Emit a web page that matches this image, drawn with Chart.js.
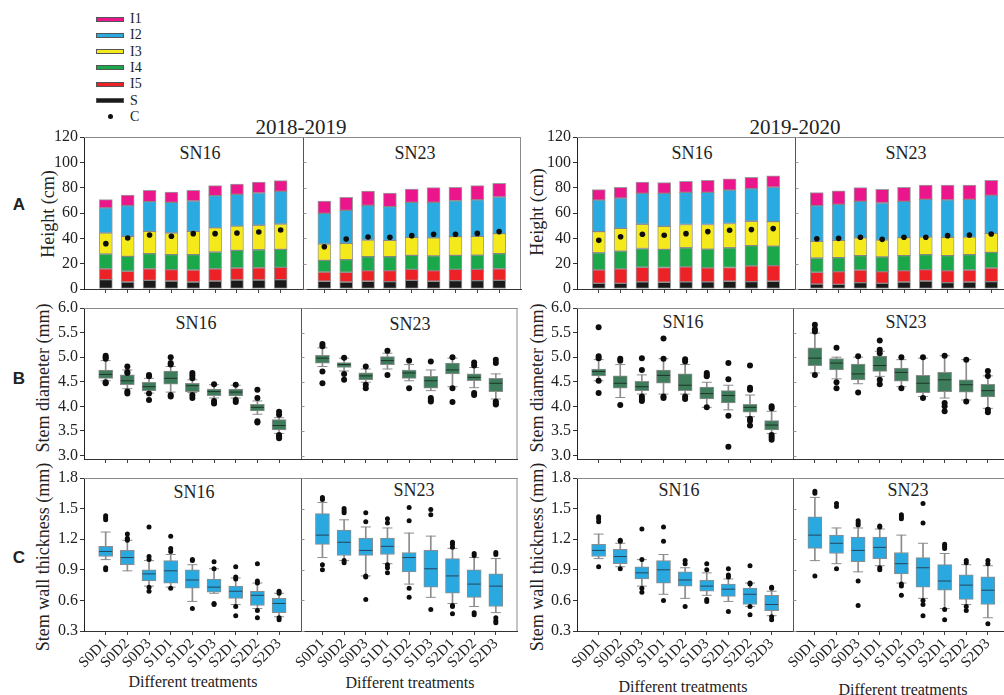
<!DOCTYPE html>
<html>
<head>
<meta charset="utf-8">
<script src="https://cdn.jsdelivr.net/npm/chart.js@4.4.1/dist/chart.umd.min.js"></script>
<style>
  html, body { margin: 0; padding: 0; width: 1004px; height: 695px; overflow: hidden; background: #fff; }
  body { position: relative; font-family: "Liberation Serif", "Times New Roman", serif; color: #222; }
  canvas { position: absolute; }
  .t  { position: absolute; white-space: nowrap; transform: translate(-50%, -50%); line-height: 1; }
  .ty { position: absolute; white-space: nowrap; transform: translate(-50%, -50%) rotate(-90deg); line-height: 1; font-size: 18px; }
  .p  { font-family: "Liberation Sans", Arial, sans-serif; font-weight: bold; font-size: 17px; }
  .sn { font-size: 18px; }
  .yr { font-size: 21px; }
  .dt { font-size: 16px; }
  .lg { position: absolute; font-size: 14px; line-height: 1; }
</style>
</head>
<body>
<div class="t yr" style="left:301px;top:127px">2018-2019</div>
<div class="t yr" style="left:795px;top:127px">2019-2020</div>

<div class="t p" style="left:19px;top:204px">A</div>
<div class="t p" style="left:19px;top:378px">B</div>
<div class="t p" style="left:19px;top:557px">C</div>

<div class="ty" style="left:48px;top:214px">Height (cm)</div>
<div class="ty" style="left:537px;top:212px">Height (cm)</div>
<div class="ty" style="left:43px;top:378px">Stem diameter (mm)</div>
<div class="ty" style="left:537px;top:378px">Stem diameter (mm)</div>
<div class="ty" style="left:43px;top:557px">Stem wall thickness (mm)</div>
<div class="ty" style="left:537px;top:557px">Stem wall thickness (mm)</div>

<div class="t sn" style="left:200px;top:153px">SN16</div>
<div class="t sn" style="left:415px;top:153px">SN23</div>
<div class="t sn" style="left:692px;top:153px">SN16</div>
<div class="t sn" style="left:906px;top:153px">SN23</div>
<div class="t sn" style="left:196px;top:323px">SN16</div>
<div class="t sn" style="left:410px;top:324px">SN23</div>
<div class="t sn" style="left:683px;top:322px">SN16</div>
<div class="t sn" style="left:906px;top:322px">SN23</div>
<div class="t sn" style="left:194px;top:492px">SN16</div>
<div class="t sn" style="left:414px;top:490px">SN23</div>
<div class="t sn" style="left:679px;top:490px">SN16</div>
<div class="t sn" style="left:908px;top:490px">SN23</div>

<div class="t dt" style="left:193px;top:682px">Different treatments</div>
<div class="t dt" style="left:410px;top:683px">Different treatments</div>
<div class="t dt" style="left:683px;top:687px">Different treatments</div>
<div class="t dt" style="left:903px;top:690px">Different treatments</div>

<script>
// ---------- categories and axis ticks ----------
const treatments = ['S0D1', 'S0D2', 'S0D3', 'S1D1', 'S1D2', 'S1D3', 'S2D1', 'S2D2', 'S2D3'];
const heightTicks = [0, 20, 40, 60, 80, 100, 120];
const diamTicks = [3.0, 3.5, 4.0, 4.5, 5.0, 5.5, 6.0];
const wallTicks = [0.3, 0.6, 0.9, 1.2, 1.5, 1.8];

// ---------- plant height (cm): internode lengths stacked from the base ----------
const layerNames  = ['S', 'I5', 'I4', 'I3', 'I2', 'I1'];
const layerColors = ['#1a1a1a', '#ec2227', '#1ba84a', '#f4ea1b', '#29abe2', '#ec168c'];

// 2018-2019, SN16
const h1819_SN16_S  = [7.4, 5.5, 6.8, 6.3, 5.5, 6.3, 7.1, 7.1, 7.4];
const h1819_SN16_I5 = [8.6, 8.5, 9.2, 9.0, 9.5, 9.7, 9.5, 9.7, 9.7];
const h1819_SN16_I4 = [11.6, 11.8, 11.9, 11.8, 12.1, 13.2, 13.9, 14.2, 14.2];
const h1819_SN16_I3 = [16.6, 15.8, 17.6, 17.1, 18.4, 19.0, 19.2, 19.3, 20.0];
const h1819_SN16_I2 = [19.8, 24.2, 23.5, 24.2, 24.0, 25.5, 25.0, 25.5, 25.8];
const h1819_SN16_I1 = [6.5, 8.4, 8.9, 8.2, 8.4, 7.9, 8.2, 8.7, 8.4];
const h1819_SN16_C  = [35.8, 40.3, 42.6, 41.6, 43.7, 43.7, 44.2, 45.0, 46.6];
// 2018-2019, SN23
const h1819_SN23_S  = [6.1, 5.5, 6.1, 5.8, 6.8, 6.1, 6.6, 6.6, 6.8];
const h1819_SN23_I5 = [7.3, 7.7, 8.4, 8.7, 8.7, 8.4, 8.9, 8.9, 9.2];
const h1819_SN23_I4 = [9.2, 10.0, 11.0, 11.0, 11.1, 11.6, 11.1, 11.3, 11.9];
const h1819_SN23_I3 = [12.9, 12.8, 13.2, 12.9, 14.2, 14.2, 14.7, 14.8, 15.8];
const h1819_SN23_I2 = [24.2, 26.1, 27.3, 26.6, 27.6, 28.1, 28.4, 28.7, 28.9];
const h1819_SN23_I1 = [9.8, 10.3, 11.4, 10.8, 10.5, 11.6, 10.6, 11.3, 10.8];
const h1819_SN23_C  = [33.4, 39.5, 41.0, 40.8, 42.1, 43.2, 43.2, 43.9, 45.3];
// 2019-2020, SN16
const h1920_SN16_S  = [4.5, 4.5, 5.6, 5.3, 5.6, 5.6, 6.1, 5.8, 6.1];
const h1920_SN16_I5 = [10.6, 11.4, 11.6, 11.7, 11.9, 11.1, 10.9, 12.5, 12.4];
const h1920_SN16_I4 = [13.5, 14.0, 14.8, 14.3, 15.1, 14.8, 15.6, 15.9, 15.4];
const h1920_SN16_I3 = [16.7, 18.0, 19.1, 18.2, 18.3, 19.4, 19.1, 19.3, 19.3];
const h1920_SN16_I2 = [24.9, 23.9, 24.4, 26.0, 25.4, 25.4, 26.4, 25.7, 27.1];
const h1920_SN16_I1 = [8.2, 8.5, 9.0, 8.5, 8.7, 9.5, 8.8, 9.0, 9.0];
const h1920_SN16_C  = [38.4, 41.3, 43.2, 42.4, 43.7, 45.3, 46.4, 46.9, 47.7];
// 2019-2020, SN23
const h1920_SN23_S  = [3.9, 3.7, 5.0, 4.5, 5.5, 6.3, 5.0, 5.5, 5.8];
const h1920_SN23_I5 = [9.3, 10.0, 10.0, 9.2, 9.0, 9.0, 9.5, 9.5, 10.8];
const h1920_SN23_I4 = [11.3, 11.1, 11.3, 11.6, 11.8, 11.8, 11.8, 12.1, 12.3];
const h1920_SN23_I3 = [13.1, 13.6, 14.0, 13.4, 14.2, 13.9, 14.5, 13.9, 15.0];
const h1920_SN23_I2 = [28.2, 28.4, 28.9, 29.2, 28.7, 29.8, 29.5, 29.8, 30.0];
const h1920_SN23_I1 = [10.3, 10.8, 10.8, 10.8, 11.1, 11.3, 11.8, 11.3, 11.9];
const h1920_SN23_C  = [39.7, 40.0, 40.8, 39.2, 40.8, 40.8, 42.1, 42.6, 43.4];

// ---------- stem diameter (mm): [lower whisker, Q1, median, Q3, upper whisker] ----------
const diam1819_SN16 = [
  [4.52, 4.57, 4.65, 4.74, 4.93], [4.36, 4.44, 4.52, 4.64, 4.74], [4.27, 4.32, 4.40, 4.49, 4.57],
  [4.29, 4.45, 4.57, 4.72, 4.81], [4.28, 4.30, 4.42, 4.47, 4.54], [4.17, 4.22, 4.30, 4.35, 4.44],
  [4.17, 4.21, 4.29, 4.35, 4.43], [3.84, 3.91, 3.98, 4.04, 4.11], [3.45, 3.52, 3.61, 3.73, 3.77]];
const diam1819_SN16_out = [
  [5.03, 5.00, 4.97, 4.49, 4.47], [4.81, 4.70, 4.68, 4.30, 4.26], [4.64, 4.61, 4.26, 4.13],
  [5.00, 4.88, 4.85, 4.23, 4.20], [4.68, 4.63, 4.57, 4.23, 4.17], [4.45, 4.11, 4.06],
  [4.44, 4.13, 4.09], [4.34, 4.17, 3.70, 3.67], [3.89, 3.83, 3.42, 3.39, 3.35]];
const diam1819_SN23 = [
  [4.81, 4.88, 4.98, 5.04, 5.19], [4.72, 4.79, 4.85, 4.89, 4.98], [4.49, 4.54, 4.62, 4.68, 4.76],
  [4.76, 4.85, 4.93, 5.01, 5.08], [4.52, 4.57, 4.68, 4.74, 4.85], [4.32, 4.37, 4.52, 4.61, 4.74],
  [4.40, 4.66, 4.74, 4.88, 4.98], [4.38, 4.52, 4.59, 4.66, 4.79], [4.15, 4.30, 4.47, 4.57, 4.66]];
const diam1819_SN23_out = [
  [5.27, 5.22, 4.71, 4.47], [4.99, 4.66, 4.54], [4.81, 4.44, 4.37],
  [5.13, 4.64], [4.93, 4.37], [4.91, 4.17, 4.13, 4.10],
  [5.00, 4.37, 4.09], [4.89, 4.83, 4.27, 4.23], [4.95, 4.88, 4.10, 4.06, 4.04]];
const diam1920_SN16 = [
  [4.52, 4.62, 4.71, 4.76, 4.95], [4.18, 4.37, 4.47, 4.62, 4.85], [4.25, 4.32, 4.40, 4.51, 4.64],
  [4.25, 4.47, 4.63, 4.74, 4.97], [4.25, 4.32, 4.43, 4.66, 4.85], [3.98, 4.15, 4.26, 4.39, 4.49],
  [3.93, 4.07, 4.22, 4.32, 4.43], [3.79, 3.88, 3.98, 4.04, 4.23], [3.45, 3.52, 3.62, 3.71, 3.90]];
const diam1920_SN16_out = [
  [5.61, 5.02, 4.98, 4.52, 4.27], [4.97, 4.93, 4.03], [4.98, 4.74, 4.20, 4.15, 4.11],
  [5.38, 4.97, 4.20, 4.17], [4.96, 4.91, 4.20, 4.15], [4.68, 4.64, 4.61, 3.98],
  [4.88, 4.55, 3.81, 3.18], [4.83, 4.38, 4.34, 3.75, 3.71, 3.61], [4.00, 3.96, 3.42, 3.37, 3.32]];
const diam1920_SN23 = [
  [4.68, 4.83, 4.98, 5.19, 5.49], [4.56, 4.74, 4.88, 4.97, 5.00], [4.46, 4.54, 4.66, 4.86, 5.00],
  [4.61, 4.71, 4.83, 5.02, 5.12], [4.40, 4.51, 4.69, 4.78, 4.95], [4.20, 4.28, 4.47, 4.63, 4.98],
  [4.17, 4.30, 4.54, 4.69, 5.03], [4.13, 4.29, 4.44, 4.54, 4.95], [3.96, 4.19, 4.32, 4.45, 4.62]];
const diam1920_SN23_out = [
  [5.66, 5.57, 5.52, 4.64], [5.19, 4.49, 4.37], [5.02, 4.28],
  [5.34, 5.15, 5.08, 4.54, 4.45], [5.00, 4.37], [5.00, 4.17],
  [5.03, 4.07, 4.00, 3.90], [4.95, 4.10], [4.72, 4.62, 3.93, 3.88]];

// ---------- stem wall thickness (mm): [lower whisker, Q1, median, Q3, upper whisker] ----------
const wall1819_SN16 = [
  [1.00, 1.03, 1.08, 1.13, 1.27], [0.89, 0.95, 1.02, 1.09, 1.19], [0.74, 0.79, 0.86, 0.90, 0.99],
  [0.73, 0.77, 0.89, 0.99, 1.05], [0.59, 0.72, 0.80, 0.90, 0.95], [0.67, 0.68, 0.73, 0.81, 0.91],
  [0.56, 0.62, 0.69, 0.74, 0.82], [0.52, 0.55, 0.65, 0.69, 0.77], [0.44, 0.48, 0.57, 0.62, 0.67]];
const wall1819_SN16_out = [
  [1.43, 1.41, 1.39, 0.92, 0.90], [1.25, 1.21, 1.19], [1.32, 1.03, 1.00, 0.73, 0.69],
  [1.23, 1.11, 1.08, 0.72], [1.00, 0.99, 0.52], [0.98, 0.91, 0.57, 0.56],
  [0.93, 0.83, 0.81, 0.54, 0.45], [0.96, 0.79, 0.77, 0.50, 0.43], [0.69, 0.67, 0.43, 0.41]];
const wall1819_SN23 = [
  [1.02, 1.15, 1.24, 1.45, 1.56], [0.99, 1.04, 1.17, 1.29, 1.39], [0.84, 1.04, 1.09, 1.21, 1.32],
  [0.96, 1.05, 1.13, 1.21, 1.31], [0.76, 0.88, 1.02, 1.07, 1.26], [0.63, 0.73, 0.91, 1.09, 1.23],
  [0.57, 0.67, 0.84, 1.01, 1.11], [0.54, 0.63, 0.76, 0.90, 1.02], [0.48, 0.54, 0.74, 0.86, 1.01]];
const wall1819_SN23_out = [
  [1.61, 1.59, 0.95, 0.90], [1.50, 1.48, 1.46, 0.99, 0.97], [1.46, 1.37, 0.84, 0.83, 0.61],
  [1.40, 1.36, 0.95, 0.92, 0.87], [1.51, 1.38, 0.72, 0.63], [1.49, 1.44, 0.51],
  [1.17, 1.15, 1.12, 0.55, 0.54, 0.47], [1.06, 1.04, 0.48, 0.46], [1.07, 1.05, 0.43, 0.40, 0.38]];
const wall1920_SN16 = [
  [1.01, 1.03, 1.09, 1.15, 1.25], [0.93, 0.96, 1.03, 1.10, 1.16], [0.74, 0.81, 0.87, 0.93, 1.00],
  [0.66, 0.77, 0.90, 0.99, 1.05], [0.62, 0.74, 0.80, 0.88, 0.92], [0.65, 0.69, 0.74, 0.80, 0.87],
  [0.59, 0.64, 0.71, 0.76, 0.81], [0.54, 0.56, 0.66, 0.72, 0.77], [0.45, 0.50, 0.56, 0.65, 0.69]];
const wall1920_SN16_out = [
  [1.42, 1.40, 1.37, 0.93], [1.19, 1.18, 0.91], [1.30, 1.00, 0.72, 0.68],
  [1.32, 1.18, 0.60], [0.99, 0.96, 0.54], [0.96, 0.90, 0.61, 0.59],
  [0.91, 0.85, 0.83, 0.49], [0.94, 0.77, 0.76, 0.54, 0.46], [0.73, 0.72, 0.44, 0.41]];
const wall1920_SN23 = [
  [0.99, 1.11, 1.24, 1.42, 1.61], [0.96, 1.06, 1.16, 1.24, 1.31], [0.88, 0.98, 1.09, 1.22, 1.31],
  [0.94, 1.01, 1.12, 1.22, 1.30], [0.77, 0.86, 0.96, 1.07, 1.24], [0.62, 0.73, 0.92, 1.02, 1.16],
  [0.52, 0.70, 0.79, 0.95, 1.06], [0.56, 0.61, 0.75, 0.85, 0.95], [0.43, 0.56, 0.70, 0.83, 0.94]];
const wall1920_SN23_out = [
  [1.67, 1.65, 0.84], [1.55, 1.52, 0.91], [1.38, 1.36, 1.34, 0.79, 0.55],
  [1.33, 1.32, 0.92, 0.90], [1.44, 1.42, 1.40, 0.76, 0.74, 0.65], [1.55, 1.36, 0.60, 0.56, 0.45],
  [1.15, 1.13, 1.11, 0.51, 0.41], [0.99, 0.97, 0.54, 0.50], [0.99, 0.96, 0.37]];

// ---------- legend ----------
const legendNames  = ['I1', 'I2', 'I3', 'I4', 'I5', 'S'];
const legendColors = ['#ec168c', '#29abe2', '#f4ea1b', '#1ba84a', '#ec2227', '#1a1a1a'];

(function drawLegend() {
  const rowY = i => 19 + i * 16.3;
  legendNames.forEach((name, i) => {
    const sw = document.createElement('div');
    sw.style.cssText = `position:absolute;left:96px;top:${rowY(i) - 2.5}px;width:26px;height:3px;` +
      `background:${legendColors[i]};border:1px solid #555;`;
    document.body.appendChild(sw);
    const tx = document.createElement('div');
    tx.className = 'lg'; tx.textContent = name;
    tx.style.left = '130px'; tx.style.top = (rowY(i) - 7) + 'px';
    document.body.appendChild(tx);
  });
  const i = legendNames.length;
  const dot = document.createElement('div');
  dot.style.cssText = `position:absolute;left:107.5px;top:${rowY(i) - 2.5}px;width:5px;height:5px;border-radius:50%;background:#111;`;
  document.body.appendChild(dot);
  const tx = document.createElement('div');
  tx.className = 'lg'; tx.textContent = 'C';
  tx.style.left = '130px'; tx.style.top = (rowY(i) - 7) + 'px';
  document.body.appendChild(tx);
})();

// ---------- layout ----------
const FONT = "'Liberation Serif', 'Times New Roman', serif";
const COLS = [{ left: 84, right: 521 }, { left: 577, right: 1013 }];
const ROWS = {
  A: { top: 137, bottom: 289, under: 8 },
  B: { top: 308, bottom: 459, under: 8 },
  C: { top: 478, bottom: 631, under: 62 }
};
const PADL = 60, PADT = 12, PADR = 4, YW = 40;

// cultivar g (0 = SN16, 1 = SN23), treatment i -> slot on the shared x axis (0..20)
const slot = (g, i) => g * 10 + i + 1;
const xSlots = treatments.map((_, i) => slot(0, i)).concat(treatments.map((_, i) => slot(1, i)));

function makeCanvas(col, row) {
  const c = COLS[col], r = ROWS[row];
  const cv = document.createElement('canvas');
  const w = PADL + (c.right - c.left) + PADR;
  const h = PADT + (r.bottom - r.top) + r.under;
  cv.width = w; cv.height = h;
  cv.style.left = (c.left - PADL) + 'px';
  cv.style.top = (r.top - PADT) + 'px';
  cv.style.width = w + 'px'; cv.style.height = h + 'px';
  document.body.appendChild(cv);
  return cv;
}

// panel frame: grey top/right edges, divider between cultivars, short inner ticks on the divider
const panelFrame = {
  id: 'panelFrame',
  afterDraw(chart) {
    const { ctx, chartArea: a, scales: { x, y } } = chart;
    ctx.save();
    ctx.lineWidth = 1;
    ctx.strokeStyle = '#8a8a8a';
    ctx.beginPath();
    ctx.moveTo(a.left, a.top + 0.5); ctx.lineTo(a.right, a.top + 0.5);
    ctx.moveTo(a.right - 0.5, a.top); ctx.lineTo(a.right - 0.5, a.bottom);
    ctx.stroke();
    const xd = Math.round(x.getPixelForValue(10)) + 0.5;
    ctx.strokeStyle = '#555';
    ctx.beginPath(); ctx.moveTo(xd, a.top); ctx.lineTo(xd, a.bottom); ctx.stroke();
    ctx.strokeStyle = '#9a9a9a';
    ctx.beginPath();
    y.ticks.forEach(t => {
      const py = Math.round(y.getPixelForValue(t.value)) + 0.5;
      ctx.moveTo(xd, py); ctx.lineTo(xd + 3, py);
    });
    ctx.stroke();
    ctx.restore();
  }
};

function options(row, yMin, yMax, yTicks, decimals, stacked) {
  const r = ROWS[row];
  const showX = row === 'C';
  return {
    responsive: false, animation: false, devicePixelRatio: 1,
    layout: { padding: { left: PADL - YW, top: PADT, right: PADR, bottom: 0 } },
    plugins: { legend: { display: false }, tooltip: { enabled: false } },
    scales: {
      x: {
        type: 'linear', min: 0, max: 20, offset: false, stacked: true,
        grid: { display: true, offset: false, drawOnChartArea: false, drawTicks: true, tickLength: 4, tickColor: '#444', color: '#444' },
        border: { display: true, color: '#333', width: 1 },
        afterBuildTicks: s => { s.ticks = xSlots.map(v => ({ value: v })); },
        afterFit: s => { s.height = r.under; s.paddingLeft = s.paddingRight = s.paddingTop = s.paddingBottom = 0; },
        ticks: {
          autoSkip: false, minRotation: 45, maxRotation: 45, padding: 0,
          font: { family: FONT, size: 15 }, color: '#222',
          callback: v => showX ? treatments[(v % 10) - 1] : ''
        }
      },
      y: {
        min: yMin, max: yMax, stacked: stacked,
        grid: { display: true, drawOnChartArea: false, drawTicks: true, tickLength: 4, tickColor: '#333', color: '#333' },
        border: { display: true, color: '#222', width: 1 },
        afterBuildTicks: s => { s.ticks = yTicks.map(v => ({ value: v })); },
        afterFit: s => { s.width = YW; s.paddingLeft = s.paddingRight = s.paddingTop = s.paddingBottom = 0; },
        ticks: { padding: 2, font: { family: FONT, size: 16 }, color: '#222', callback: v => v.toFixed(decimals) }
      }
    }
  };
}

function heightChart(col, sn16Layers, sn23Layers, c16, c23) {
  const datasets = [{
    type: 'scatter', label: 'C', order: 0,
    data: c16.map((v, i) => ({ x: slot(0, i), y: v })).concat(c23.map((v, i) => ({ x: slot(1, i), y: v }))),
    pointRadius: 2.8, pointBackgroundColor: '#0d0d0d', pointBorderWidth: 0
  }];
  layerNames.forEach((name, k) => {
    datasets.push({
      type: 'bar', label: name, order: 1,
      data: sn16Layers[k].map((v, i) => ({ x: slot(0, i), y: v }))
        .concat(sn23Layers[k].map((v, i) => ({ x: slot(1, i), y: v }))),
      backgroundColor: layerColors[k], borderColor: 'rgba(90,90,90,0.6)', borderWidth: 1,
      borderSkipped: false, barThickness: 13
    });
  });
  new Chart(makeCanvas(col, 'A'), {
    type: 'bar', data: { datasets },
    options: options('A', 0, 120, heightTicks, 0, true), plugins: [panelFrame]
  });
}

function boxChart(col, row, sets, outs, fill, medColor, yMin, yMax, yTicks, dotR) {
  const whisk = [], box = [], caps = [], med = [], pts = [];
  sets.forEach((set, g) => set.forEach((s, i) => {
    const x = slot(g, i);
    whisk.push({ x, y: [s[0], s[4]] });
    box.push({ x, y: [s[1], s[3]] });
    caps.push({ x, y: s[0] }, { x, y: s[4] });
    med.push({ x, y: s[2] });
  }));
  outs.forEach((o, g) => o.forEach((list, i) => list.forEach(v => pts.push({ x: slot(g, i), y: v }))));
  const datasets = [
    { type: 'scatter', order: 0, data: pts, pointRadius: dotR, pointBackgroundColor: '#0d0d0d', pointBorderWidth: 0 },
    { type: 'scatter', order: 1, data: med, pointStyle: 'line', pointRadius: 6.5, pointBorderColor: medColor, pointBorderWidth: 1 },
    { type: 'bar', order: 2, data: box, grouped: false, barThickness: 14, backgroundColor: fill,
      borderColor: '#8c8c8c', borderWidth: 1, borderSkipped: false },
    { type: 'scatter', order: 3, data: caps, pointStyle: 'line', pointRadius: 5, pointBorderColor: '#8c8c8c', pointBorderWidth: 1 },
    { type: 'bar', order: 4, data: whisk, grouped: false, barThickness: 1, backgroundColor: '#8c8c8c', borderWidth: 0 }
  ];
  new Chart(makeCanvas(col, row), {
    type: 'bar', data: { datasets },
    options: options(row, yMin, yMax, yTicks, 1, false), plugins: [panelFrame]
  });
}

// ---------- row A: plant height ----------
heightChart(0,
  [h1819_SN16_S, h1819_SN16_I5, h1819_SN16_I4, h1819_SN16_I3, h1819_SN16_I2, h1819_SN16_I1],
  [h1819_SN23_S, h1819_SN23_I5, h1819_SN23_I4, h1819_SN23_I3, h1819_SN23_I2, h1819_SN23_I1],
  h1819_SN16_C, h1819_SN23_C);
heightChart(1,
  [h1920_SN16_S, h1920_SN16_I5, h1920_SN16_I4, h1920_SN16_I3, h1920_SN16_I2, h1920_SN16_I1],
  [h1920_SN23_S, h1920_SN23_I5, h1920_SN23_I4, h1920_SN23_I3, h1920_SN23_I2, h1920_SN23_I1],
  h1920_SN16_C, h1920_SN23_C);

// ---------- row B: stem diameter ----------
const GREEN = '#3e7d5c', BLUE = '#2aa9e0';
boxChart(0, 'B', [diam1819_SN16, diam1819_SN23], [diam1819_SN16_out, diam1819_SN23_out], GREEN, '#1d3326', 2.93, 6.0, diamTicks, 3);
boxChart(1, 'B', [diam1920_SN16, diam1920_SN23], [diam1920_SN16_out, diam1920_SN23_out], GREEN, '#1d3326', 2.93, 6.0, diamTicks, 3);

// ---------- row C: stem wall thickness ----------
boxChart(0, 'C', [wall1819_SN16, wall1819_SN23], [wall1819_SN16_out, wall1819_SN23_out], BLUE, '#24455a', 0.3, 1.8, wallTicks, 2.5);
boxChart(1, 'C', [wall1920_SN16, wall1920_SN23], [wall1920_SN16_out, wall1920_SN23_out], BLUE, '#24455a', 0.3, 1.8, wallTicks, 2.5);
</script>
</body>
</html>
